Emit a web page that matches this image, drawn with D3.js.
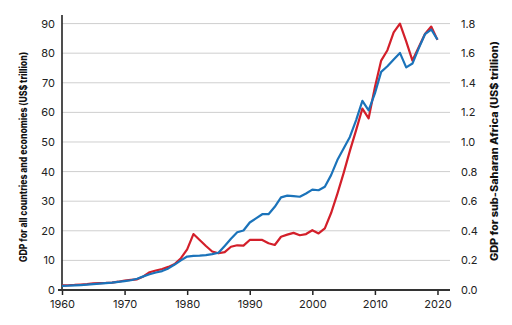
<!DOCTYPE html>
<html>
<head>
<meta charset="utf-8">
<script src="https://cdn.jsdelivr.net/npm/d3@7"></script>
<style>
  html, body { margin: 0; padding: 0; background: #fff; }
  svg { display: block; }
  .tick text { font-family: Inter, "Noto Sans", sans-serif; font-size: 11px; fill: #222; }
  .title { font-family: Inter, "Noto Sans", sans-serif; font-size: 10px; font-weight: 800; fill: #111; }
</style>
</head>
<body>
<svg id="chart" width="512" height="325"></svg>
<script>
// GDP, current US$ trillion, 1960–2020
const years = d3.range(1960, 2021);

const worldGDP = [
  1.40, 1.45, 1.55, 1.67, 1.83, 1.99, 2.16, 2.30, 2.48, 2.74,
  3.00, 3.30, 3.80, 4.60, 5.30, 5.90, 6.40, 7.30, 8.60, 10.0,
  11.3, 11.5, 11.6, 11.8, 12.1, 12.6, 14.9, 17.3, 19.5, 20.1,
  22.8, 24.2, 25.6, 25.6, 28.1, 31.3, 31.9, 31.7, 31.5, 32.6,
  33.9, 33.7, 34.9, 38.8, 43.9, 47.8, 51.7, 57.4, 63.9, 60.7,
  66.4, 73.7, 75.6, 77.9, 80.1, 75.2, 76.5, 81.6, 86.4, 88.0,
  84.6
];

const ssaGDP = [
  0.031, 0.032, 0.034, 0.037, 0.040, 0.045, 0.047, 0.048, 0.050, 0.056,
  0.064, 0.068, 0.072, 0.092, 0.120, 0.132, 0.142, 0.156, 0.175, 0.215,
  0.275, 0.378, 0.338, 0.297, 0.260, 0.248, 0.256, 0.292, 0.302, 0.300,
  0.338, 0.338, 0.338, 0.316, 0.304, 0.360, 0.374, 0.386, 0.370, 0.378,
  0.404, 0.382, 0.416, 0.520, 0.650, 0.790, 0.940, 1.080, 1.226, 1.160,
  1.370, 1.550, 1.620, 1.740, 1.800, 1.680, 1.550, 1.640, 1.730, 1.780,
  1.690
];

const xTicks = [1960, 1970, 1980, 1990, 2000, 2010, 2020];
const leftTicks = [0, 10, 20, 30, 40, 50, 60, 70, 80, 90];
const rightTicks = [0, 0.2, 0.4, 0.6, 0.8, 1.0, 1.2, 1.4, 1.6, 1.8];

const leftTitle = "GDP for all countries and economies (US$ trillion)";
const rightTitle = "GDP for sub-Saharan Africa (US$ trillion)";

const svg = d3.select("#chart");
const plot = { left: 62, right: 450, top: 15, bottom: 290 };

const x = d3.scaleLinear().domain([1960, 2022]).range([plot.left, plot.right]);
const yL = d3.scaleLinear().domain([0, 92.9]).range([plot.bottom, plot.top]);
const yR = d3.scaleLinear().domain([0, 1.858]).range([plot.bottom, plot.top]);

// horizontal gridlines
svg.append("g")
  .selectAll("line")
  .data(leftTicks.filter(d => d > 0))
  .join("line")
  .attr("x1", plot.left).attr("x2", plot.right)
  .attr("y1", d => yL(d)).attr("y2", d => yL(d))
  .attr("stroke", "#cfcfcf").attr("stroke-width", 1);

// left axis
const gL = svg.append("g")
  .attr("transform", `translate(${plot.left},0)`)
  .call(d3.axisLeft(yL).tickValues(leftTicks).tickSize(0).tickPadding(7).tickFormat(d3.format("d")));
gL.select(".domain").remove();
svg.append("line")
  .attr("x1", plot.left).attr("x2", plot.left)
  .attr("y1", plot.top).attr("y2", plot.bottom)
  .attr("stroke", "#222").attr("stroke-width", 1.6);

// right axis
const gR = svg.append("g")
  .attr("transform", `translate(${plot.right},0)`)
  .call(d3.axisRight(yR).tickValues(rightTicks).tickSize(0).tickPadding(11).tickFormat(d3.format(".1f")));
gR.select(".domain").remove();

// bottom axis
const gX = svg.append("g")
  .attr("transform", `translate(0,${plot.bottom})`)
  .call(d3.axisBottom(x).tickValues(xTicks).tickSize(5).tickPadding(5).tickFormat(d3.format("d")));
gX.select(".domain").remove();
gX.selectAll(".tick line").attr("stroke", "#222").attr("stroke-width", 1.5);
svg.append("line")
  .attr("x1", plot.left - 4).attr("x2", plot.right)
  .attr("y1", plot.bottom).attr("y2", plot.bottom)
  .attr("stroke", "#333").attr("stroke-width", 2);

// series lines
const ssaLine = d3.line().x((d, i) => x(years[i])).y(d => yR(d));
const worldLine = d3.line().x((d, i) => x(years[i])).y(d => yL(d));

svg.append("path")
  .datum(ssaGDP)
  .attr("d", ssaLine)
  .attr("fill", "none")
  .attr("stroke", "#d31f2a")
  .attr("stroke-width", 2.2)
  .attr("stroke-linejoin", "round");

svg.append("path")
  .datum(worldGDP)
  .attr("d", worldLine)
  .attr("fill", "none")
  .attr("stroke", "#1b73ba")
  .attr("stroke-width", 2.2)
  .attr("stroke-linejoin", "round");

// axis titles
svg.append("text")
  .attr("class", "title")
  .attr("transform", "translate(26.5,157) rotate(-90)")
  .attr("text-anchor", "middle")
  .attr("textLength", 210)
  .attr("lengthAdjust", "spacingAndGlyphs")
  .text(leftTitle);

svg.append("text")
  .attr("class", "title")
  .attr("transform", "translate(497.5,151) rotate(-90)")
  .attr("text-anchor", "middle")
  .attr("textLength", 220)
  .attr("lengthAdjust", "spacingAndGlyphs")
  .text(rightTitle);
</script>
</body>
</html>
